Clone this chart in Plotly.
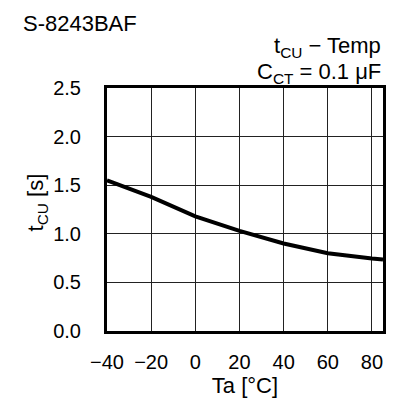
import plotly.graph_objects as go

# Ta [°C] vs tCU [s]
temp = [-40, -20, 0, 20, 40, 60, 80, 85]
t_cu = [1.55, 1.38, 1.18, 1.03, 0.90, 0.80, 0.745, 0.735]

x_ticks = [-40, -20, 0, 20, 40, 60, 80]
y_ticks = [0.0, 0.5, 1.0, 1.5, 2.0, 2.5]

fuente = "Liberation Sans, Arial, sans-serif"

fig = go.Figure()

fig.add_trace(go.Scatter(
    x=temp, y=t_cu,
    mode="lines",
    line=dict(color="black", width=4),
    showlegend=False
))

fig.update_xaxes(
    range=[-40, 85],
    tickvals=x_ticks,
    showgrid=True, gridcolor="#222222", gridwidth=1,
    showline=True, linecolor="black", linewidth=3, mirror=True,
    zeroline=False, automargin=False,
    ticks="", ticklabelstandoff=11,
    tickfont=dict(size=20, color="black"),
    title=dict(text="Ta [°C]", font=dict(size=22, color="black"), standoff=6)
)
fig.update_yaxes(
    range=[0, 2.5],
    tickvals=y_ticks,
    tickformat=".1f",
    showgrid=True, gridcolor="#222222", gridwidth=1,
    showline=True, linecolor="black", linewidth=3, mirror=True,
    zeroline=False, automargin=False,
    ticks="", ticklabelstandoff=19,
    tickfont=dict(size=20, color="black")
)

fig.add_annotation(text="S-8243BAF", xref="paper", yref="paper", x=-0.31, y=1.265,
                   xanchor="left", yanchor="middle", showarrow=False,
                   font=dict(size=22, color="black"))
fig.add_annotation(text="t<sub>CU</sub> − Temp", xref="paper", yref="paper", x=1.0, y=1.17,
                   xanchor="right", yanchor="middle", showarrow=False,
                   font=dict(size=22, color="black"))
fig.add_annotation(text="C<sub>CT</sub> = 0.1 μF", xref="paper", yref="paper", x=1.0, y=1.06,
                   xanchor="right", yanchor="middle", showarrow=False,
                   font=dict(size=22, color="black"))
fig.add_annotation(text="t<sub>CU</sub> [s]", xref="paper", yref="paper", x=-0.253, y=0.53,
                   xanchor="center", yanchor="middle", textangle=-90, showarrow=False,
                   font=dict(size=22, color="black"))

fig.update_layout(
    width=398, height=408,
    margin=dict(l=107, r=15, t=88, b=77),
    paper_bgcolor="white", plot_bgcolor="white",
    font=dict(family=fuente, color="black")
)

# quitar el margen por defecto del body para que el gráfico empiece en (0, 0)
fig.write_html("out.html", config={"displayModeBar": False},
               post_script="document.body.style.margin='0';")
